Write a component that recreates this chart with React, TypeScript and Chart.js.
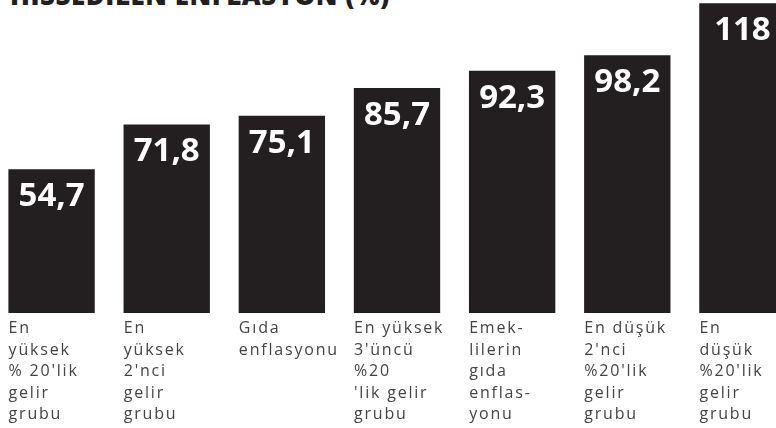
import React, { useEffect, useRef } from "react";
import { Chart, registerables } from "chart.js";

Chart.register(...registerables);

const title = "HİSSEDİLEN ENFLASYON (%)";
const categories: string[][] = [
  ["En", "yüksek", "% 20'lik", "gelir", "grubu"],
  ["En", "yüksek", "2'nci", "gelir", "grubu"],
  ["Gıda", "enflasyonu"],
  ["En yüksek", "3'üncü", "%20", "'lik gelir", "grubu"],
  ["Emek-", "lilerin", "gıda", "enflas-", "yonu"],
  ["En düşük", "2'nci", "%20'lik", "gelir", "grubu"],
  ["En", "düşük", "%20'lik", "gelir", "grubu"],
];
const values: number[] = [54.7, 71.8, 75.1, 85.7, 92.3, 98.2, 118];

const spacingPlugin = {
  id: "spacing",
  beforeDraw(chart: any) {
    (chart.ctx as any).letterSpacing = "1.8px";
  },
  afterDraw(chart: any) {
    (chart.ctx as any).letterSpacing = "0px";
  },
};

const valueLabelPlugin = {
  id: "valueLabels",
  afterDatasetsDraw(chart: any) {
    const ctx = chart.ctx;
    const meta = chart.getDatasetMeta(0);
    ctx.save();
    (ctx as any).letterSpacing = "0px";
    ctx.fillStyle = "#ffffff";
    ctx.font = "bold 33px 'Open Sans'";
    ctx.textAlign = "center";
    ctx.textBaseline = "top";
    meta.data.forEach((bar: any, i: number) => {
      const v = values[i];
      const txt = v.toLocaleString("tr-TR");
      ctx.fillText(txt, bar.x, bar.y + 11);
    });
    ctx.restore();
  },
};

export default function App() {
  const ref = useRef<HTMLCanvasElement | null>(null);
  useEffect(() => {
    document.body.style.margin = "0";
    const chart = new Chart(ref.current as HTMLCanvasElement, {
      type: "bar",
      data: {
        labels: categories,
        datasets: [
          {
            data: values,
            backgroundColor: "#231f20",
            borderWidth: 0,
            categoryPercentage: 1,
            barPercentage: 0.75,
          },
        ],
      },
      options: {
        animation: false,
        responsive: true,
        maintainAspectRatio: false,
        layout: { padding: 0 },
        plugins: { legend: { display: false }, tooltip: { enabled: false } },
        scales: {
          x: {
            grid: { display: false, drawTicks: false },
            border: { display: false },
            ticks: {
              align: "start",
              labelOffset: -43,
              padding: 5,
              maxRotation: 0,
              minRotation: 0,
              autoSkip: false,
              color: "#444444",
              font: { family: "'Open Sans'", size: 16, lineHeight: 1.34 },
            },
            afterFit: (s: any) => {
              s.height = 115;
            },
          },
          y: {
            display: false,
            min: 0,
            max: 119.2,
          },
        },
      },
      plugins: [spacingPlugin, valueLabelPlugin],
    });
    return () => chart.destroy();
  }, []);
  return (
    <div style={{ position: "relative", width: 776, height: 428, overflow: "hidden", background: "#fff" }}>
      <div
        style={{
          position: "absolute",
          left: 10,
          top: -23,
          fontFamily: "'Open Sans'",
          fontWeight: 800,
          fontSize: 26,
          letterSpacing: "0.5px",
          color: "#231f20",
          whiteSpace: "nowrap",
        }}
      >
        {title}
      </div>
      <div style={{ position: "absolute", left: -6, top: 0, width: 806, height: 428 }}>
        <canvas ref={ref} />
      </div>
    </div>
  );
}
